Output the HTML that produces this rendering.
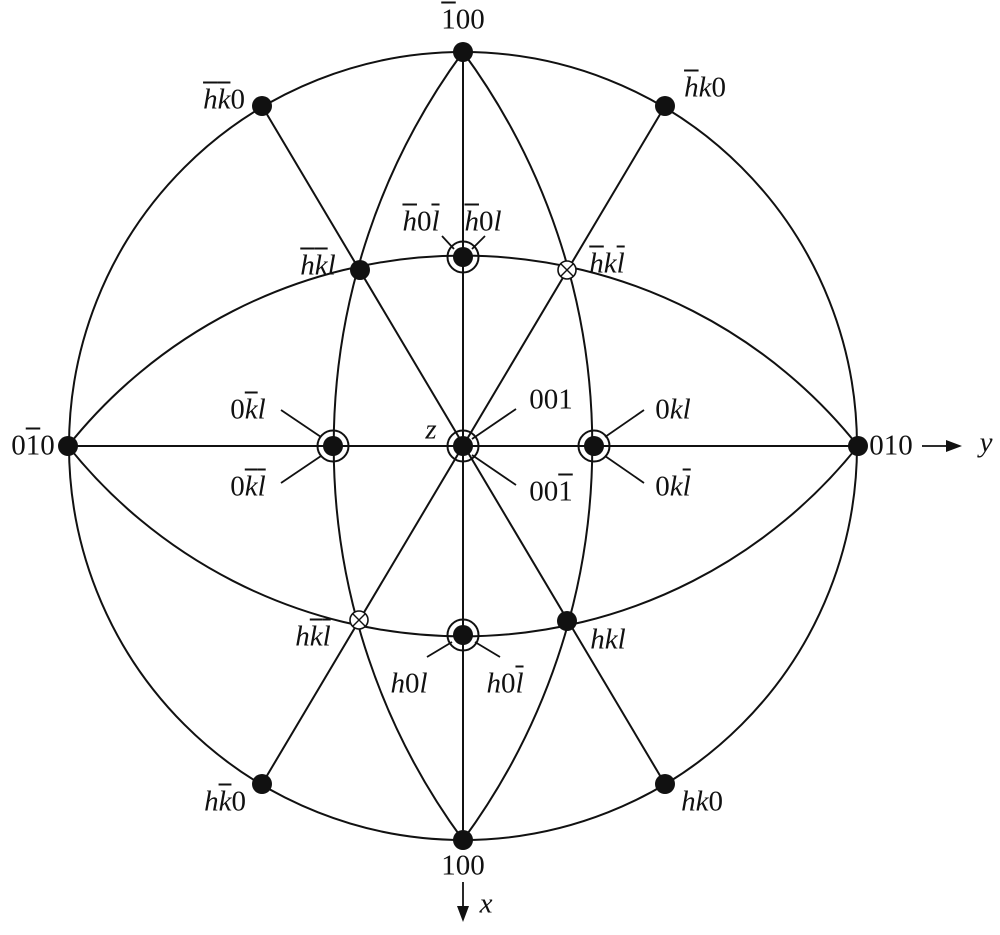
<!DOCTYPE html>
<html><head><meta charset="utf-8"><style>
body{margin:0;background:#fff}
#w{position:relative;width:1000px;height:935px;overflow:hidden}
.t{position:absolute;transform:translate(-50%,-50%);font-family:"Liberation Serif","Times New Roman",serif;font-size:29px;line-height:1;white-space:nowrap;color:#111}
i{font-style:italic}
.b{text-decoration:overline;text-decoration-thickness:1.6px}
</style></head><body><div id="w">
<svg width="1000" height="935" style="position:absolute;left:0;top:0" fill="none" stroke="#111" stroke-width="2">
<circle cx="463" cy="446" r="394"/>
<line x1="68" y1="446" x2="858" y2="446"/>
<line x1="463" y1="52" x2="463" y2="840"/>
<line x1="262" y1="106" x2="665" y2="784"/>
<line x1="665" y1="106" x2="262" y2="784"/>
<path d="M68 446 A505 505 0 0 1 858 446"/>
<path d="M68 446 A505 505 0 0 0 858 446"/>
<path d="M463 52 A665 665 0 0 0 463 840"/>
<path d="M463 52 A665 665 0 0 1 463 840"/>
<g stroke-width="1.8">
<line x1="442" y1="236" x2="454" y2="249"/><line x1="485" y1="236" x2="472" y2="249"/>
<line x1="281" y1="410" x2="321" y2="437"/><line x1="281" y1="483" x2="321" y2="456"/>
<line x1="644" y1="410" x2="605" y2="437"/><line x1="644" y1="483" x2="605" y2="456"/>
<line x1="516" y1="409" x2="472" y2="439"/><line x1="516" y1="485" x2="472" y2="455"/>
<line x1="427" y1="657" x2="452" y2="642"/><line x1="500" y1="657" x2="475" y2="642"/>
<line x1="463" y1="882" x2="463" y2="910"/><line x1="922" y1="446" x2="950" y2="446"/>
</g>
<polygon points="457,906 469,906 463,922" fill="#111" stroke="none"/>
<polygon points="946,440 946,452 962,446" fill="#111" stroke="none"/>
<g fill="#111" stroke="none">
<circle cx="463" cy="52" r="10"/><circle cx="463" cy="840" r="10"/>
<circle cx="68" cy="446" r="10"/><circle cx="858" cy="446" r="10"/>
<circle cx="262" cy="106" r="10"/><circle cx="665" cy="106" r="10"/>
<circle cx="262" cy="784" r="10"/><circle cx="665" cy="784" r="10"/>
<circle cx="360" cy="270" r="10"/><circle cx="567" cy="621" r="10"/>
<circle cx="463" cy="257" r="10"/><circle cx="463" cy="635" r="10"/>
<circle cx="333" cy="446" r="10"/><circle cx="594" cy="446" r="10"/>
<circle cx="463" cy="446" r="10"/>
</g>
<circle cx="463" cy="257" r="15.5"/><circle cx="463" cy="635" r="15.5"/>
<circle cx="333" cy="446" r="15.5"/><circle cx="594" cy="446" r="15.5"/>
<circle cx="463" cy="446" r="15.5"/>
<circle cx="567" cy="270" r="9" fill="#fff" stroke-width="1.6"/>
<circle cx="359" cy="620" r="9" fill="#fff" stroke-width="1.6"/>
<g stroke-width="1.4"><line x1="561" y1="264" x2="573" y2="276"/><line x1="573" y1="264" x2="561" y2="276"/>
<line x1="353" y1="614" x2="365" y2="626"/><line x1="365" y1="614" x2="353" y2="626"/></g>
</svg>
<div class="t" style="left:463px;top:20px"><span class="b">1</span>00</div>
<div class="t" style="left:224px;top:100px"><i class="b">h</i><i class="b">k</i>0</div>
<div class="t" style="left:705px;top:88px"><i class="b">h</i><i>k</i>0</div>
<div class="t" style="left:318px;top:266px"><i class="b">h</i><i class="b">k</i><i>l</i></div>
<div class="t" style="left:607px;top:264px"><i class="b">h</i><i>k</i><i class="b">l</i></div>
<div class="t" style="left:421px;top:222px"><i class="b">h</i>0<i class="b">l</i></div>
<div class="t" style="left:483px;top:222px"><i class="b">h</i>0<i>l</i></div>
<div class="t" style="left:248px;top:410px">0<i class="b">k</i><i>l</i></div>
<div class="t" style="left:248px;top:487px">0<i class="b">k</i><i class="b">l</i></div>
<div class="t" style="left:673px;top:410px">0<i>k</i><i>l</i></div>
<div class="t" style="left:673px;top:487px">0<i>k</i><i class="b">l</i></div>
<div class="t" style="left:551px;top:400px">001</div>
<div class="t" style="left:431px;top:430px"><i>z</i></div>
<div class="t" style="left:551px;top:492px">00<span class="b">1</span></div>
<div class="t" style="left:33px;top:446px">0<span class="b">1</span>0</div>
<div class="t" style="left:891px;top:446px">010</div>
<div class="t" style="left:986px;top:443px"><i>y</i></div>
<div class="t" style="left:313px;top:637px"><i>h</i><i class="b">k</i><i class="b">l</i></div>
<div class="t" style="left:608px;top:640px"><i>hkl</i></div>
<div class="t" style="left:409px;top:684px"><i>h</i>0<i>l</i></div>
<div class="t" style="left:505px;top:684px"><i>h</i>0<i class="b">l</i></div>
<div class="t" style="left:225px;top:802px"><i>h</i><i class="b">k</i>0</div>
<div class="t" style="left:702px;top:802px"><i>hk</i>0</div>
<div class="t" style="left:463px;top:866px">100</div>
<div class="t" style="left:486px;top:904px"><i>x</i></div>
</div></body></html>
